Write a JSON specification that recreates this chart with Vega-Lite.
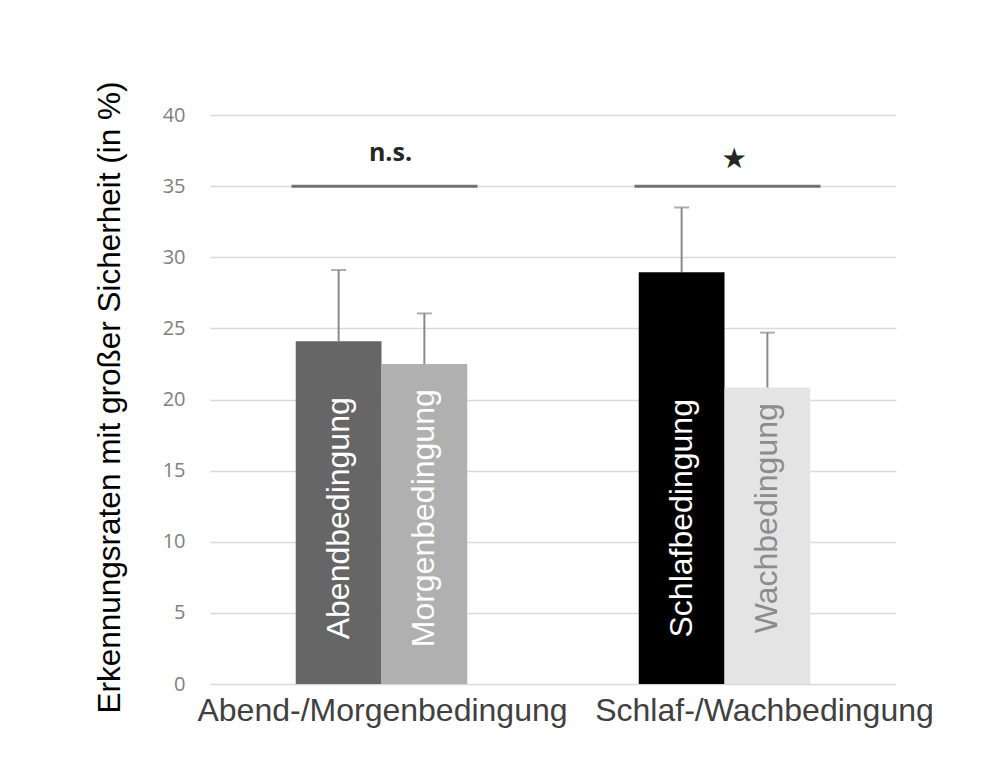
{
  "$schema": "https://vega.github.io/schema/vega-lite/v6.json",
  "autosize": "none",
  "width": 686,
  "height": 569,
  "padding": {"left": 210, "top": 115, "right": 108, "bottom": 100},
  "background": "white",
  "config": {"view": {"stroke": null}},
  "datasets": {
    "bars": [
      {"group": "Abend-/Morgenbedingung", "side": "left", "cond": "Abendbedingung", "value": 24.1, "upper": 29.1},
      {"group": "Abend-/Morgenbedingung", "side": "right", "cond": "Morgenbedingung", "value": 22.5, "upper": 26.05},
      {"group": "Schlaf-/Wachbedingung", "side": "left", "cond": "Schlafbedingung", "value": 28.95, "upper": 33.5},
      {"group": "Schlaf-/Wachbedingung", "side": "right", "cond": "Wachbedingung", "value": 20.85, "upper": 24.7}
    ],
    "sig": [
      {"group": "Abend-/Morgenbedingung", "line": 35, "label": "n.s.", "labelPos": 37.3},
      {"group": "Schlaf-/Wachbedingung", "line": 35, "label": "★", "labelPos": 36.9}
    ]
  },
  "encoding": {
    "x": {
      "field": "group",
      "type": "nominal",
      "sort": ["Abend-/Morgenbedingung", "Schlaf-/Wachbedingung"],
      "scale": {"paddingInner": 0.5, "paddingOuter": 0.25},
      "axis": {
        "title": null,
        "labelAngle": 0,
        "domain": false,
        "ticks": false,
        "labelFont": "Liberation Sans",
        "labelFontSize": 32,
        "labelColor": "#404040",
        "labelPadding": 11,
        "labelLimit": 500,
        "labelOffset": {"condition": {"test": "datum.value === 'Schlaf-/Wachbedingung'", "value": 40}, "value": 1}
      }
    }
  },
  "layer": [
    {
      "data": {"name": "bars"},
      "mark": {"type": "bar"},
      "encoding": {
        "xOffset": {"field": "side", "type": "nominal", "scale": {"paddingInner": 0, "paddingOuter": 0}},
        "y": {
          "field": "value",
          "type": "quantitative",
          "scale": {"domain": [0, 40], "nice": false},
          "axis": {
            "values": [0, 5, 10, 15, 20, 25, 30, 35, 40],
            "domain": false,
            "ticks": false,
            "gridColor": "#d9d9d9",
            "gridWidth": 1.5,
            "labelFont": "Open Sans",
            "labelFontSize": 20,
            "labelColor": "#808080",
            "labelPadding": 25,
            "title": "Erkennungsraten mit großer Sicherheit (in %)",
            "titleFont": "Liberation Sans",
            "titleFontSize": 31.5,
            "titleFontWeight": "normal",
            "titleColor": "#000000",
            "titleX": -100,
            "titleY": 282,
            "titleBaseline": "middle"
          }
        },
        "color": {
          "field": "cond",
          "type": "nominal",
          "scale": {
            "domain": ["Abendbedingung", "Morgenbedingung", "Schlafbedingung", "Wachbedingung"],
            "range": ["#666666", "#b0b0b0", "#000000", "#e4e4e4"]
          },
          "legend": null
        }
      }
    },
    {
      "data": {"name": "bars"},
      "mark": {"type": "rule", "color": "#8a8a8a", "strokeWidth": 2},
      "encoding": {
        "xOffset": {"field": "side", "type": "nominal"},
        "y": {"field": "value", "type": "quantitative"},
        "y2": {"field": "upper"}
      }
    },
    {
      "data": {"name": "bars"},
      "mark": {"type": "tick", "color": "#8a8a8a", "size": 15, "thickness": 2},
      "encoding": {
        "xOffset": {"field": "side", "type": "nominal"},
        "y": {"field": "upper", "type": "quantitative"}
      }
    },
    {
      "data": {"name": "bars"},
      "mark": {"type": "text", "angle": 270, "align": "center", "baseline": "middle", "font": "Liberation Sans", "fontSize": 32},
      "encoding": {
        "xOffset": {"field": "side", "type": "nominal"},
        "y": {"datum": 11.65, "type": "quantitative"},
        "text": {"field": "cond"},
        "color": {
          "condition": {"test": "datum.cond === 'Wachbedingung'", "value": "#8c8c8c"},
          "value": "#ffffff"
        }
      }
    },
    {
      "data": {"name": "sig"},
      "mark": {"type": "tick", "color": "#404040", "size": 186, "thickness": 3, "xOffset": 3},
      "encoding": {
        "y": {"field": "line", "type": "quantitative"}
      }
    },
    {
      "data": {"name": "sig"},
      "mark": {"type": "text", "font": "Open Sans", "fontWeight": "bold", "fontSize": 25, "color": "#262626", "baseline": "middle", "dx": 9},
      "encoding": {
        "y": {"field": "labelPos", "type": "quantitative"},
        "text": {"field": "label"}
      }
    }
  ]
}
